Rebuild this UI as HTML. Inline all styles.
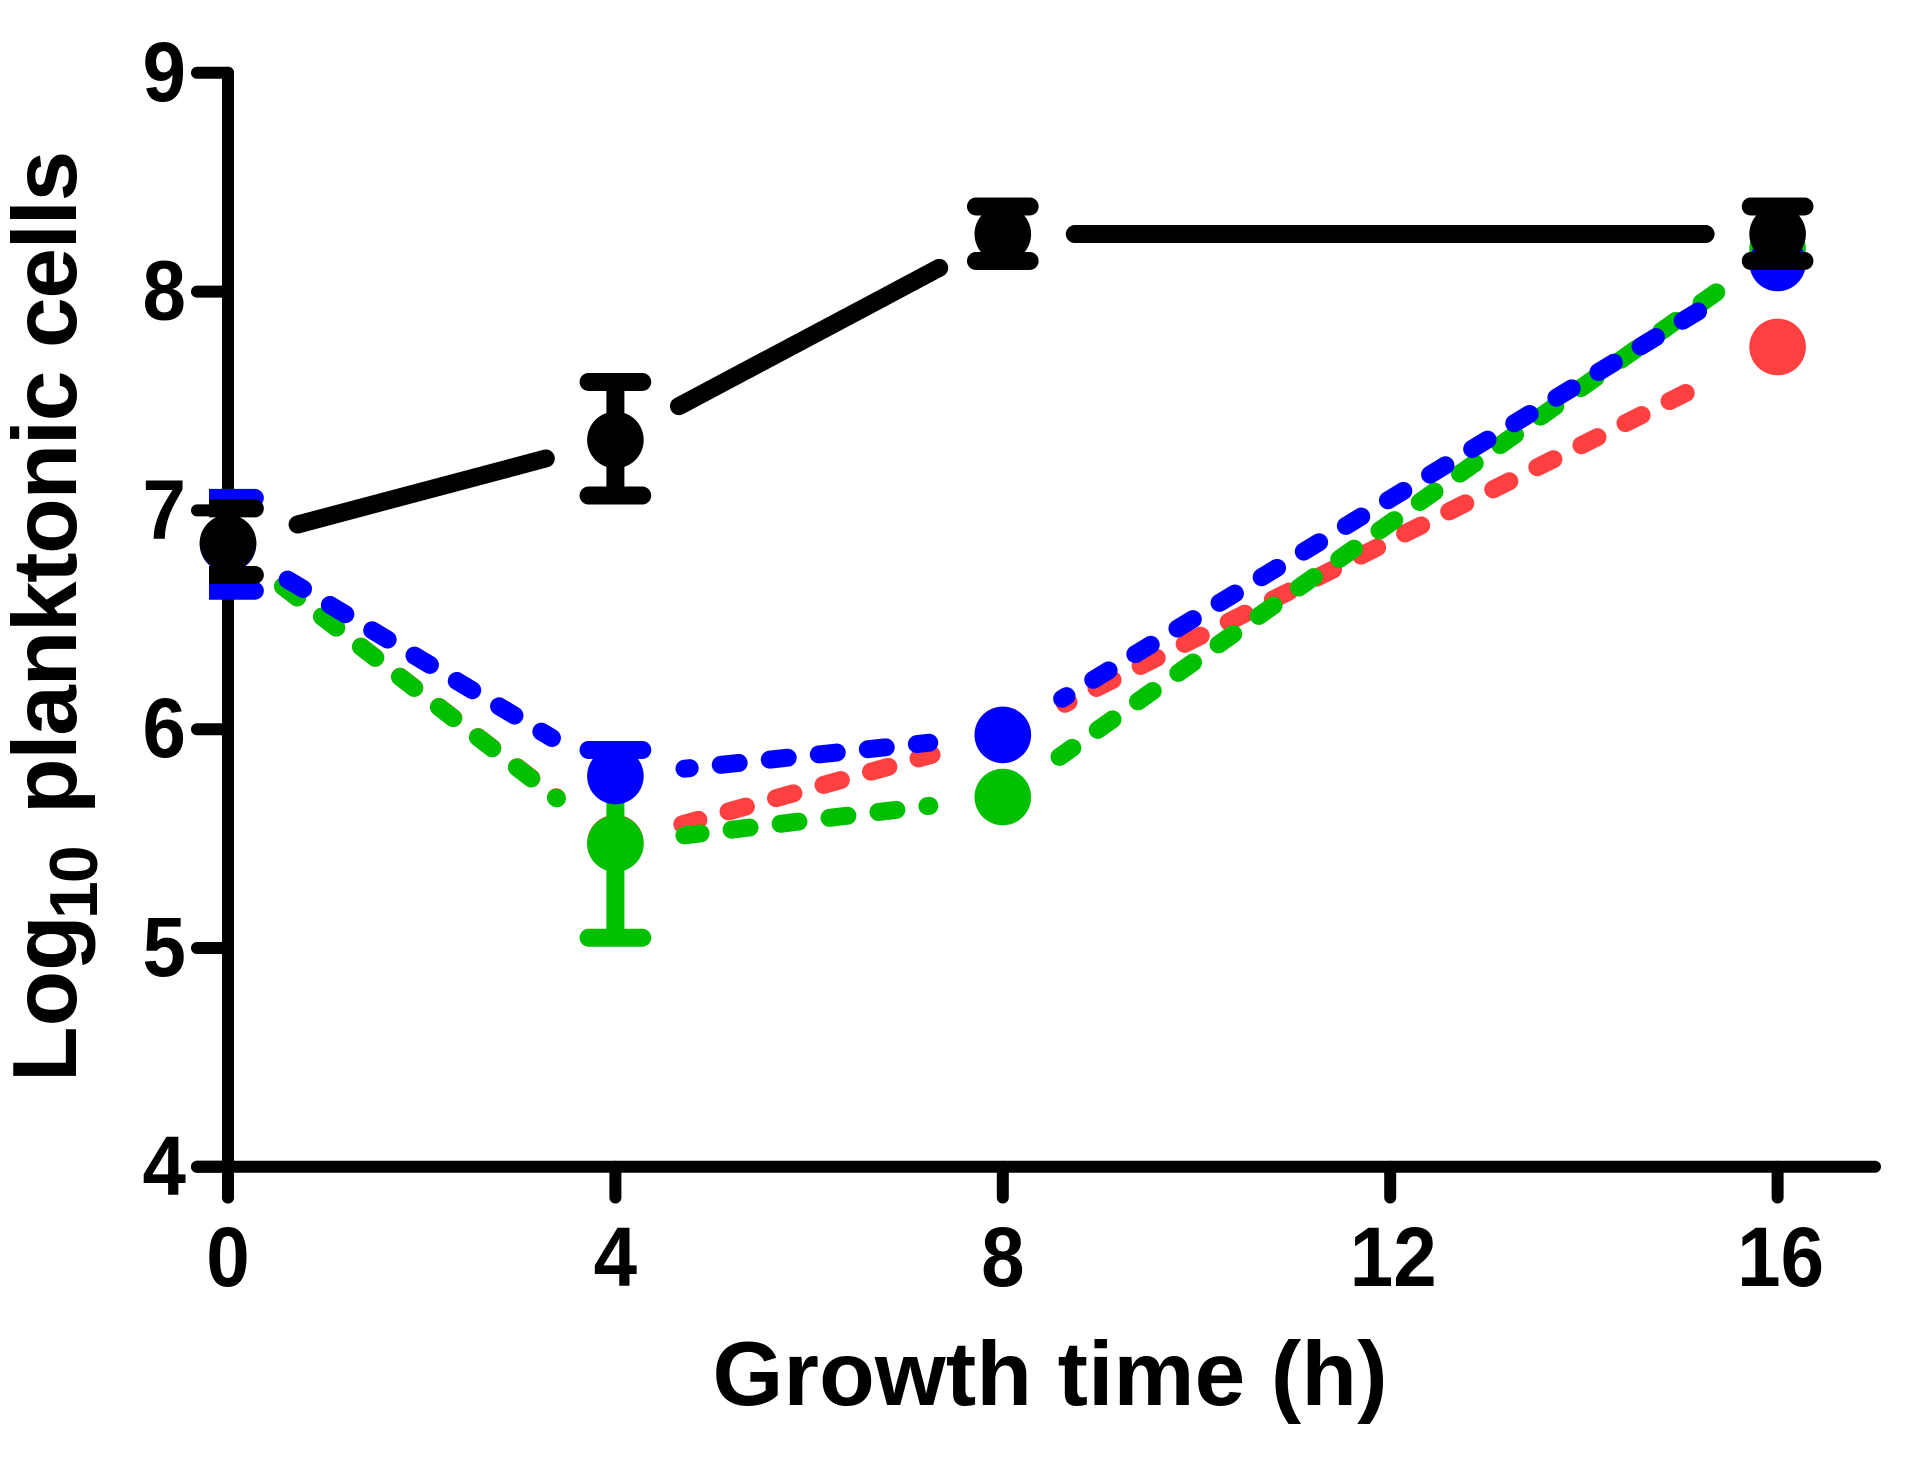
<!DOCTYPE html>
<html lang="en">
<head>
<meta charset="utf-8">
<title>Planktonic cell growth chart</title>
<style>
html,body{margin:0;padding:0;background:#fff;}
svg{display:block;}
text{font-family:"Liberation Sans",Arial,sans-serif;font-weight:700;fill:#000;}
</style>
</head>
<body>
<svg id="chart" width="1921" height="1468" viewBox="0 0 1921 1468" xmlns="http://www.w3.org/2000/svg">
  <defs>
    <clipPath id="errorClip"><rect x="209" y="0" width="1712" height="1468"></rect></clipPath>
  </defs>
  <rect x="0" y="0" width="1921" height="1468" fill="#ffffff"></rect>
  <g id="axes"></g>
  <g id="series"></g>
  <text x="1050" y="1405" font-size="91" text-anchor="middle" textLength="675" lengthAdjust="spacing">Growth time (h)</text>
  <text transform="translate(76,1082) rotate(-90)" font-size="91"><tspan x="0" y="0">Log</tspan><tspan x="163" y="21" font-size="68" letter-spacing="-2">10</tspan><tspan x="268" y="0" letter-spacing="-1.3">planktonic cells</tspan></text>
</svg>
<script>
// Chart data
const timePoints = [0, 4, 8, 16];
const xTickValues = [0, 4, 8, 12, 16];
const yTickValues = [4, 5, 6, 7, 8, 9];

const redMean = [6.847, 5.48, 5.974, 7.747];

const greenMean = [6.847, 5.477, 5.69, 8.195];
const greenHigh = [null, 5.905, null, null];
const greenLow = [null, 5.047, null, null];

const blueMean = [6.847, 5.786, 5.974, 8.131];
const blueHigh = [7.057, 5.905, null, null];
const blueLow = [6.633, null, null, null];

const blackMean = [6.851, 7.322, 8.263, 8.263];
const blackHigh = [7.009, 7.587, 8.389, 8.389];
const blackLow = [6.705, 7.068, 8.14, 8.14];

// Axis functions
const X_ORIGIN = 228, X_UNIT = 96.85;
const Y_TOP = 72.8, Y_UNIT = 218.8;
function xScale(t) { return X_ORIGIN + t * X_UNIT; }
function yScale(v) { return Y_TOP + (9 - v) * Y_UNIT; }

const SVG_NS = 'http://www.w3.org/2000/svg';
function make(tag, parent, attrs) {
  const node = document.createElementNS(SVG_NS, tag);
  for (const key in attrs) node.setAttribute(key, attrs[key]);
  parent.appendChild(node);
  return node;
}

// Axes
const axes = document.getElementById('axes');
const axisStyle = { stroke: '#000', 'stroke-width': 12, 'stroke-linecap': 'round', fill: 'none' };
const DIGIT_SQUEEZE = 0.93;

const yAxisLine = make('line', axes, Object.assign({ x1: 228, x2: 228, y1: yScale(9), y2: 1197.5 }, axisStyle));



const xAxisLine = make('line', axes, Object.assign({ x1: 197, x2: 1875, y1: yScale(4), y2: yScale(4) }, axisStyle));



yTickValues.forEach(function (v) {
  const tick = make('line', axes, Object.assign({ x1: 197, x2: 228, y1: yScale(v), y2: yScale(v) }, axisStyle));
  
  
  const label = make('text', axes, {
    transform: 'translate(186,' + (yScale(v) + 28) + ') scale(' + DIGIT_SQUEEZE + ',1)',
    'font-size': 84, 'text-anchor': 'end'
  });
  label.textContent = v;
  
  
});

xTickValues.forEach(function (t) {
  const tick = make('line', axes, Object.assign({ x1: xScale(t), x2: xScale(t), y1: yScale(4), y2: 1197.5 }, axisStyle));
  
  
  const label = make('text', axes, {
    transform: 'translate(' + (xScale(t) + (t > 8 ? 3 : 0)) + ',1286) scale(' + DIGIT_SQUEEZE + ',1)',
    'font-size': 84, 'text-anchor': 'middle'
  });
  label.textContent = t;
  
  
});

// Series
const LINE_WIDTH = 18, CAP_HALF = 26.85, MARKER_R = 28.3;
const DASH_ON = 18, DASH_PERIOD = 49.3, JUNCTION_SHIFT = 4.9;
const seriesLayer = document.getElementById('series');

function drawSeries(key, color, mean, high, low, dashed) {
  const group = make('g', seriesLayer, {});
  
  

  const gapStart = dashed ? 69.5 : 72;
  const gapEnd = dashed ? 74 : 72;
  let travelled = 0;
  for (let i = 0; i < mean.length - 1; i++) {
    const x1 = xScale(timePoints[i]), y1 = yScale(mean[i]);
    const x2 = xScale(timePoints[i + 1]), y2 = yScale(mean[i + 1]);
    const len = Math.hypot(x2 - x1, y2 - y1);
    const ux = (x2 - x1) / len, uy = (y2 - y1) / len;
    const attrs = {
      x1: x1 + ux * gapStart, y1: y1 + uy * gapStart,
      x2: x2 - ux * gapEnd, y2: y2 - uy * gapEnd,
      stroke: color, 'stroke-linecap': 'round',
      'stroke-width': LINE_WIDTH
    };
    if (dashed) {
      attrs['stroke-dasharray'] = DASH_ON + ' ' + (DASH_PERIOD - DASH_ON);
      attrs['stroke-dashoffset'] = travelled % DASH_PERIOD;
    }
    const segment = make('line', group, attrs);
    
    
    travelled += len + JUNCTION_SHIFT;
  }

  mean.forEach(function (v, i) {
    const cx = xScale(timePoints[i]);
    const hi = high ? high[i] : null;
    const lo = low ? low[i] : null;
    [hi, lo].forEach(function (bound) {
      if (bound === null) return;
      const stem = make('line', group, {
        x1: cx, x2: cx, y1: yScale(v), y2: yScale(bound),
        stroke: color, 'stroke-width': LINE_WIDTH
      });
      
      
      const cap = make('line', group, {
        x1: cx - CAP_HALF, x2: cx + CAP_HALF, y1: yScale(bound), y2: yScale(bound),
        stroke: color, 'stroke-width': LINE_WIDTH, 'stroke-linecap': 'round',
        'clip-path': 'url(#errorClip)'
      });
      
      
    });
    const marker = make('circle', group, { cx: cx, cy: yScale(v), r: MARKER_R, fill: color });
    
    
  });
}

drawSeries('red', '#ff4040', redMean, null, null, true);
drawSeries('green', '#00c000', greenMean, greenHigh, greenLow, true);
drawSeries('blue', '#0000ff', blueMean, blueHigh, blueLow, true);
drawSeries('black', '#000000', blackMean, blackHigh, blackLow, false);
</script>
</body>
</html>
